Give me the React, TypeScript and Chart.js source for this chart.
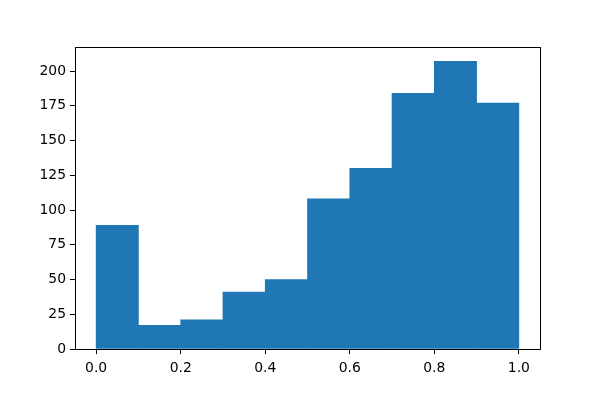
import React, { useEffect, useRef } from "react";
import { Chart, registerables } from "chart.js";

Chart.register(...registerables);

const binStarts = [0.0, 0.1, 0.2, 0.3, 0.4, 0.5, 0.6, 0.7, 0.8, 0.9];
const binWidth = 0.1;
const counts = [89, 17, 21, 41, 50, 108, 130, 184, 207, 177];
const xTickStep = 0.2;
const yTickStep = 25;

const FONT = { family: "'DejaVu Sans', sans-serif", size: 13.9 };

const frame = {
  id: "frame",
  afterDraw(chart: any) {
    const { ctx, chartArea } = chart;
    ctx.save();
    ctx.strokeStyle = "#000";
    ctx.lineWidth = 1;
    ctx.strokeRect(
      Math.round(chartArea.left) + 0.5,
      Math.round(chartArea.top) + 0.5,
      Math.round(chartArea.right - chartArea.left),
      Math.round(chartArea.bottom - chartArea.top)
    );
    ctx.restore();
  },
};

export default function App() {
  const ref = useRef<HTMLCanvasElement | null>(null);
  useEffect(() => {
    if (!ref.current) return;
    const maxCount = Math.max(...counts);
    const chart = new Chart(ref.current, {
      type: "bar",
      data: {
        datasets: [
          {
            data: binStarts.map((s, i) => ({ x: s + binWidth / 2, y: counts[i] })),
            backgroundColor: "#1f77b4",
            borderWidth: 0,
            barPercentage: 1,
            categoryPercentage: 1,
          },
        ],
      },
      options: {
        responsive: false,
        animation: false,
        events: [],
        layout: { padding: { left: 0, top: 47, right: 60, bottom: 0 } },
        plugins: { legend: { display: false }, tooltip: { enabled: false } },
        scales: {
          x: {
            type: "linear",
            min: -0.05,
            max: 1.05,
            offset: false,
            grid: {
              offset: false,
              drawOnChartArea: false,
              drawTicks: true,
              tickLength: 5,
              color: "#000",
            },
            border: { display: true, color: "#000" },
            ticks: {
              stepSize: xTickStep,
              includeBounds: false,
              padding: 6,
              color: "#000",
              font: FONT,
              maxRotation: 0,
              callback: (v: any) => Number(v).toFixed(1),
            },
            afterFit: (s: any) => {
              s.height = 51;
            },
          },
          y: {
            min: 0,
            max: maxCount * 1.05,
            grid: {
              drawOnChartArea: false,
              drawTicks: true,
              tickLength: 5,
              color: "#000",
            },
            border: { display: true, color: "#000" },
            ticks: {
              stepSize: yTickStep,
              includeBounds: false,
              padding: 4,
              color: "#000",
              font: FONT,
              callback: (v: any) => String(Math.round(Number(v))),
            },
            afterFit: (s: any) => {
              s.width = 75;
            },
          },
        },
      },
      plugins: [frame],
    } as any);
    return () => chart.destroy();
  }, []);
  return (
    <div style={{ position: "fixed", left: 0, top: 0, width: 600, height: 400, background: "#fff" }}>
      <canvas ref={ref} width={600} height={400} />
    </div>
  );
}
